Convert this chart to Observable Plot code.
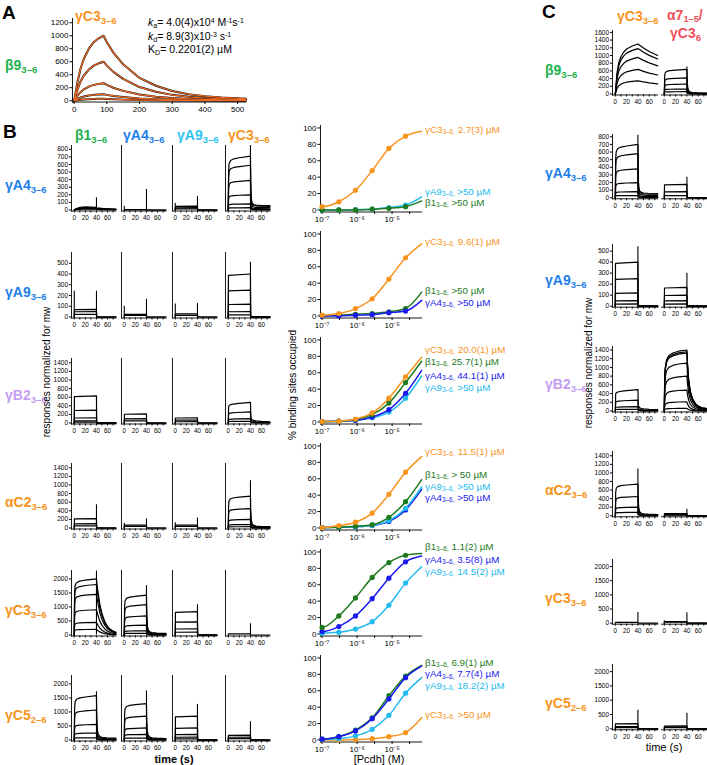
<!DOCTYPE html>
<html><head><meta charset="utf-8">
<script src="https://cdn.jsdelivr.net/npm/d3@7"></script>
<script src="https://cdn.jsdelivr.net/npm/@observablehq/plot@0.6"></script>
<style>
html,body{margin:0;padding:0;background:#fff}
#fig{position:relative;width:707px;height:765px;overflow:hidden;font-family:"Liberation Sans",Arial,Helvetica,sans-serif;color:#000;background:#fff}
#fig svg{position:absolute;overflow:visible}
.lab{position:absolute;white-space:nowrap;line-height:1}
.s{font-size:0.68em;position:relative;top:0.3em}
.rs{font-size:0.66em;position:relative;top:0.2em}
.p{font-size:0.66em;position:relative;top:-0.45em}
</style></head><body><div id="fig"></div>
<script>
// ---------- colours ----------
const C_OR = "#f7941d", C_GRN = "#22b14c", C_BLU = "#1e7fe8", C_CYN = "#2ec4f0", C_LAV = "#c49cf2", C_RED = "#f0505a";
const C_DGRN = "#1e7a1e", C_DBLU = "#1a1aee", C_LCYN = "#22bbee", C_FIT = "#f26a21";

// ---------- panel A data ----------
const aTimes = [0,10,20,30,45,60,75,90,100,120,150,200,250,300,350,400,450,525];
const aFrac  = [0,0.28,0.5,0.65,0.8,0.9,0.96,1,0.9,0.74,0.56,0.35,0.23,0.15,0.1,0.07,0.05,0.03];
const aPeaks = [1000, 600, 270, 100, 30];
const aYTicks = [0,200,400,600,800,1000,1200];
const aXTicks = [0,100,200,300,400,500];

// ---------- sensorgram shape profiles (time s, fraction of plateau) ----------
const tSquare = [0,0.3,40,40.3,75];
const fSquare = [0,0.97,1,0.01,0];
const tFast = [0,0.6,1.5,4,10,20,40,40.6,41.5,43,46,50,58,75];
const fFast = [0,0.72,0.86,0.92,0.95,0.97,1,0.5,0.25,0.13,0.08,0.06,0.05,0.04];
const fFastTail = [0,0.72,0.86,0.92,0.95,0.97,1,0.4,0.2,0.13,0.1,0.09,0.085,0.08];
const tSlowOff = [0,0.6,1.5,4,10,20,40,41,43,46,50,55,60,65,70,75];
const fSlowOff = [0,0.75,0.88,0.93,0.96,0.98,1,0.9,0.75,0.55,0.38,0.24,0.15,0.1,0.07,0.05];
const tSlope = [0,0.6,2,6,15,40,40.6,42,45,50,60,75];
const fSlope = [0,0.8,0.86,0.9,0.94,1,0.3,0.18,0.13,0.1,0.08,0.06];
const tHump = [0,3,8,15,22,30,40,40.5,50,60,75];
const fHump = [0,0.4,0.75,0.95,1,0.95,0.85,0.7,0.5,0.4,0.3];
const tB2 = [0,0.6,1.5,4,8,15,25,40,41,43,46,50,55,60,67,75];
const fB2 = [0,0.5,0.7,0.84,0.91,0.95,0.98,1,0.78,0.52,0.32,0.2,0.12,0.08,0.05,0.04];
const tSlowC = [0,3,6,10,15,20,30,40,50,60,75];
const fSlowC = [0,0.42,0.62,0.75,0.84,0.9,0.96,1,0.92,0.85,0.77];
const profiles = {square:[tSquare,fSquare], fast:[tFast,fFast], fastTail:[tFast,fFastTail], slowOff:[tSlowOff,fSlowOff],
  slope:[tSlope,fSlope], hump:[tHump,fHump], b2:[tB2,fB2], slowC:[tSlowC,fSlowC]};

// ---------- panel B sensorgrams: plateau levels per trace, profile, injection spikes [t, height] ----------
const bColNames = ["β1","γA4","γA9","γC3"];
const bColColors = [C_GRN, C_BLU, C_CYN, C_OR];
const bRowNames = ["γA4","γA9","γB2","αC2","γC3","γC5"];
const bRowSubs = ["3–6","3–6","3–6","3–6","3–6","2–6"];
const bRowColors = [C_BLU, C_BLU, C_LAV, C_OR, C_OR, C_OR];
const bYMax = [850, 600, 1500, 1500, 2300, 2300];
const bYTicks = [[0,100,200,300,400,500,600,700,800],[0,100,200,300,400,500],[0,200,400,600,800,1000,1200,1400],
  [0,200,400,600,800,1000,1200,1400],[0,500,1000,1500,2000],[0,500,1000,1500,2000]];
const lvA4 = [[40,30,20,12],[5,3],[50,30,15],[710,590,390,200,80,30]];
const pfA4 = ["hump","square","square","fastTail"];
const spA4 = [[[40,160]],[[0,50],[40,270]],[[0,85],[40,180]],[[40,850]]];
const lvA9 = [[70,50,25],[25,15],[30,15],[400,250,120,50,20]];
const pfA9 = ["square","square","square","square"];
const spA9 = [[[0,240],[40,240]],[[0,100],[40,165]],[[0,120],[40,125]],[[40,510]]];
const lvB2 = [[630,300,120,50,20],[210,100,50],[120,70,30],[480,260,100,40]];
const pfB2 = ["square","square","square","slope"];
const spB2 = [[],[],[],[]];
const lvC2 = [[220,100,50],[70,40],[70,40],[740,450,200,80,30]];
const pfC2 = ["square","square","square","fast"];
const spC2 = [[[40,540]],[[0,110],[40,210]],[[0,120],[40,230]],[[40,1100]]];
const lvC3 = [[2000,1800,1450,900,450,200],[1420,1080,680,350,150,60],[830,470,220,100],[40]];
const pfC3 = ["slowOff","fast","square","square"];
const spC3 = [[[40,2280]],[[40,1760]],[[40,1080]],[[40,400]]];
const lvC5 = [[1580,1070,560,250,80],[1300,850,430,200,70],[850,430,200,100,40],[170,100,50]];
const pfC5 = ["fast","fast","square","square"];
const spC5 = [[[40,1720]],[[40,1750]],[[40,1270]],[[40,650]]];

// ---------- panel C sensorgrams ----------
const cColNames = ["γC3"];
const cRowNames = ["β9","γA4","γA9","γB2","αC2","γC3","γC5"];
const cRowSubs = ["3–6","3–6","3–6","3–6","3–6","3–6","2–6"];
const cRowColors = [C_GRN, C_BLU, C_BLU, C_LAV, C_OR, C_OR, C_OR];
const cYMax = [1650, 830, 560, 1480, 1500, 2250, 2250];
const cYTicks = [[0,200,400,600,800,1000,1200,1400,1600],[0,100,200,300,400,500,600,700,800],[0,100,200,300,400,500],
  [0,200,400,600,800,1000,1200,1400],[0,200,400,600,800,1000,1200,1400],[0,500,1000,1500,2000],[0,500,1000,1500,2000]];
const lvCb9 = [[1300,1180,950,640,340],[640,420,260,130,60]];
const pfCb9 = ["slowC","fast"];
const spCb9 = [[],[[40,700]]];
const lvCA4 = [[700,580,380,200,80,30],[175,80,30]];
const pfCA4 = ["fastTail","square"];
const spCA4 = [[[40,820]],[[40,270]]];
const lvCA9 = [[400,250,120,50,20],[170,100,50,20]];
const pfCA9 = ["square","square"];
const spCA9 = [[[40,540]],[[40,300]]];
const lvCB2 = [[490,250,100,40],[1400,1360,1330,1100,800,480,210,60]];
const pfCB2 = ["slope","b2"];
const spCB2 = [[],[]];
const lvCC2 = [[740,450,200,80],[50,30,15]];
const pfCC2 = ["fast","square"];
const spCC2 = [[[40,1090]],[[40,150]]];
const lvCC3 = [[30],[60,40]];
const pfCC3 = ["square","square"];
const spCC3 = [[[40,380]],[[0,90],[40,370]]];
const lvCC5 = [[180,80,40],[100,70,40]];
const pfCC5 = ["square","square"];
const spCC5 = [[[40,650]],[[40,540]]];

const xTicksSmall = [0,10,20,30,40,50,60,70];

// ---------- panel B binding isotherms ----------
const concs = [1e-7, 3e-7, 9e-7, 2.7e-6, 8.1e-6, 2.43e-5];
const cStart = 9e-8, cEnd = 7e-5;
const xTickExp = [-7,-6.5,-6,-5.5,-5,-4.5];
const xTickLab = ["10⁻⁷","","10⁻⁶","","10⁻⁵",""];
const yTicksBind = [0,20,40,60,80,100];
const bind1 = [
  {name:"γA9", color:C_LCYN, dots:[0,0,0.5,1,3,6], end:16, kd:">50 µM", ly:192},
  {name:"β1", color:C_DGRN, dots:[0,0,0,1,2,4], end:11, kd:">50 µM", ly:203},
  {name:"γC3", color:C_OR, dots:[4,10,24,48,75,90], end:96, kd:"2.7(3) µM", ly:130}];
const bind2 = [
  {name:"β1", color:C_DGRN, dots:[0.5,1,2,3,5,9], end:29, kd:">50 µM", ly:291},
  {name:"γA4", color:C_DBLU, dots:[0,0,1,1.5,4,6], end:19, kd:">50 µM", ly:302.7},
  {name:"γC3", color:C_OR, dots:[1,3,9,21,45,71], end:88, kd:"9.6(1) µM", ly:241.7}];
const bind3 = [
  {name:"γA9", color:C_LCYN, dots:[0.5,1,2,5,12,29], end:56, kd:">50 µM", ly:387.7},
  {name:"γA4", color:C_DBLU, dots:[0.5,1,2,6,15,35], end:63, kd:"44.1(1) µM", ly:376},
  {name:"β1", color:C_DGRN, dots:[0.5,1,3,9,23,48], end:74, kd:"25.7(1) µM", ly:361.5},
  {name:"γC3", color:C_OR, dots:[0.5,1,3.5,11,29,55], end:79, kd:"20.0(1) µM", ly:349.5}];
const bind4 = [
  {name:"γA4", color:C_DBLU, dots:[0.5,1,1.5,3,8,22], end:47, kd:">50 µM", ly:498},
  {name:"γA9", color:C_LCYN, dots:[0.5,1,1.5,3,9,24], end:50, kd:">50 µM", ly:486.7},
  {name:"β1", color:C_DGRN, dots:[0.5,1,2,4,13,32], end:59, kd:"> 50 µM", ly:475},
  {name:"γC3", color:C_OR, dots:[0.5,3,7,18,41,68], end:87, kd:"11.5(1) µM", ly:451.7}];
const bind5 = [
  {name:"γA9", color:C_LCYN, dots:[1,2,6,15,35,62], end:82, kd:"14.5(2) µM", ly:572},
  {name:"γA4", color:C_DBLU, dots:[3,9,22,43,68,88], end:95, kd:"3.5(8) µM", ly:560},
  {name:"β1", color:C_DGRN, dots:[8,22,44,69,87,96], end:98, kd:"1.1(2) µM", ly:546.5}];
const bind6 = [
  {name:"γC3", color:C_OR, dots:[0,0,0.5,1.5,4,9], end:27, kd:">50 µM", ly:715},
  {name:"γA9", color:C_LCYN, dots:[0.5,1.5,5,13,30,57], end:76, kd:"18.2(2) µM", ly:686},
  {name:"β1", color:C_DGRN, dots:[1,4,12,27,54,78], end:91, kd:"6.9(1) µM", ly:662.5},
  {name:"γA4", color:C_DBLU, dots:[1,4,11,26,50,76], end:90, kd:"7.7(4) µM", ly:674.3}];

// ---------- helpers ----------
const fig = document.getElementById("fig");
const FONT = '"Liberation Sans", Arial, Helvetica, sans-serif';
const STYLE = {fontFamily: FONT, background: "transparent", overflow: "visible", color: "#000"};
function place(svg, left, top) { svg.style.left = left + "px"; svg.style.top = top + "px"; fig.appendChild(svg); }
function lab(x, y, html, opt = {}) {
  const d = document.createElement("div");
  d.className = "lab";
  d.innerHTML = html;
  d.style.left = x + "px"; d.style.top = y + "px";
  d.style.fontSize = (opt.size || 11) + "px";
  if (opt.color) d.style.color = opt.color;
  if (opt.bold) d.style.fontWeight = "bold";
  let tr = "translateY(-50%)";
  if (opt.anchor === "middle") tr = "translate(-50%,-50%)";
  if (opt.rotate) tr = "translate(-50%,-50%) rotate(-90deg)";
  d.style.transform = tr;
  fig.appendChild(d);
}
const sub = (name, s) => `${name}<span class="s">${s}</span>`;
const plain = d => String(d);

const ML = 24, MR = 3, MT = 3, MB = 14;
function sensor(o) {
  const [tt, ff] = profiles[o.prof];
  const data = [];
  o.levels.forEach((L, i) => tt.forEach((t, j) => data.push({k: i, t, v: L * ff[j]})));
  const W = (o.xdom[1] - o.xdom[0]) * o.ppu;
  const H = o.h;
  const unitPx = o.ymax / H;
  const marks = [
    Plot.line(data, {x: "t", y: "v", z: "k", stroke: "#000", strokeWidth: 1.2}),
    Plot.ruleX(o.spikes, {x: d => d[0], y1: 0, y2: d => d[1], stroke: "#000", strokeWidth: 1.1}),
    Plot.frame({anchor: "bottom", stroke: "#000", strokeWidth: 0.9}),
    Plot.axisX({ticks: xTicksSmall, tickFormat: d => d % 20 === 0 ? String(d) : "", tickSize: 2, tickPadding: 2.5, fontSize: 6.3, label: null})
  ];
  if (o.yaxis !== "none") marks.push(Plot.frame({anchor: "left", stroke: "#000", strokeWidth: 0.9}));
  if (o.yaxis === "full") marks.push(Plot.axisY({ticks: o.yticks, tickFormat: plain, tickSize: 2, tickPadding: 1.5, fontSize: 6.5, label: null}));
  const svg = Plot.plot({
    width: ML + W + MR, height: MT + H + 1 + MB,
    marginLeft: ML, marginRight: MR, marginTop: MT, marginBottom: MB,
    x: {domain: o.xdom, label: null},
    y: o.yaxis === "full" ? {domain: [-unitPx, o.ymax], label: null} : {domain: [-unitPx, o.ymax], axis: null, label: null},
    style: STYLE,
    marks
  });
  place(svg, o.left - ML, o.y0 - H - MT);
}

// ---------- panel A ----------
(function () {
  const data = [];
  aPeaks.forEach((P, i) => aTimes.forEach((t, j) => data.push({k: i, t, v: P * aFrac[j]})));
  const ppu = 0.327, xdom = [-5, 525], ydom = [-20, 1265], ypx = 0.065;
  const W = (xdom[1] - xdom[0]) * ppu, H = (ydom[1] - ydom[0]) * ypx;
  const ml = 30, mt = 3, mb = 16, mr = 4;
  const svg = Plot.plot({
    width: ml + W + mr, height: mt + H + mb, marginLeft: ml, marginRight: mr, marginTop: mt, marginBottom: mb,
    x: {domain: xdom, label: null}, y: {domain: ydom, label: null},
    style: STYLE,
    marks: [
      Plot.line(data, {x: "t", y: "v", z: "k", stroke: "#111", strokeWidth: 2}),
      Plot.line(data, {x: "t", y: "v", z: "k", stroke: C_FIT, strokeWidth: 1.2}),
      Plot.frame({anchor: "left", stroke: "#000", strokeWidth: 0.9}),
      Plot.frame({anchor: "bottom", stroke: "#000", strokeWidth: 0.9}),
      Plot.axisY({ticks: aYTicks, tickFormat: plain, tickSize: 2.5, tickPadding: 1.5, fontSize: 8, label: null}),
      Plot.axisX({ticks: aXTicks, tickFormat: plain, tickSize: 2.5, tickPadding: 2, fontSize: 8, label: null})
    ]
  });
  place(svg, 72.4 - ml, 100 - 1265 * ypx - mt);
})();
lab(2, 12, "A", {size: 19, bold: true});
lab(75, 16, sub("γC3", "3–6"), {size: 14, bold: true, color: C_OR});
lab(5, 65, sub("β9", "3–6"), {size: 14, bold: true, color: C_GRN});
lab(148, 23, `<i>k</i><span class="s">a</span>= 4.0(4)x10<span class="p">4</span> M<span class="p">-1</span>s<span class="p">-1</span>`, {size: 10.5});
lab(148, 37, `<i>k</i><span class="s">d</span>= 8.9(3)x10<span class="p">-3</span> s<span class="p">-1</span>`, {size: 10.5});
lab(148, 50, `K<span class="s">D</span>= 0.2201(2) µM`, {size: 10.5});

// ---------- panel B sensorgrams ----------
lab(3, 131, "B", {size: 19, bold: true});
const bColX0 = [74, 123.3, 175, 227.7];
const bColHeadX = [75, 123, 177, 228];
const bRowY0 = [209, 316, 422, 527, 634, 739];
const bRowLabY = [185, 292, 395, 502, 610, 715];
const bLevels = [lvA4, lvA9, lvB2, lvC2, lvC3, lvC5];
const bProfs = [pfA4, pfA9, pfB2, pfC2, pfC3, pfC5];
const bSpikes = [spA4, spA9, spB2, spC2, spC3, spC5];
bColNames.forEach((n, c) => lab(bColHeadX[c], 135, sub(n, "3–6"), {size: 14, bold: true, color: bColColors[c]}));
bRowNames.forEach((n, r) => {
  lab(5, bRowLabY[r], sub(n, bRowSubs[r]), {size: 14, bold: true, color: bRowColors[r]});
  for (let c = 0; c < 4; c++) {
    sensor({left: bColX0[c] - 5 * 0.555, y0: bRowY0[r], h: 64.5, ymax: bYMax[r], yticks: bYTicks[r],
      yaxis: c === 0 ? "full" : "line", levels: bLevels[r][c], prof: bProfs[r][c], spikes: bSpikes[r][c],
      xdom: [-5, 75], ppu: 0.555});
  }
});
lab(47, 372, "responses normalized for mw", {size: 10, rotate: true});
lab(174, 759, "time (s)", {size: 11, bold: true, anchor: "middle"});

// ---------- panel B binding isotherms ----------
const bindSets = [bind1, bind2, bind3, bind4, bind5, bind6];
const bindY0 = [209, 315, 421, 527, 633, 739];
bindSets.forEach((set, p) => {
  const ypx = 0.82, ydom = [-2.5, 103];
  const W = (Math.log10(cEnd) - Math.log10(cStart)) * 35, H = (ydom[1] - ydom[0]) * ypx;
  const ml = 26, mr = 3, mt = 3, mb = 16;
  const marks = [
    Plot.frame({anchor: "left", stroke: "#000", strokeWidth: 0.9}),
    Plot.frame({anchor: "bottom", stroke: "#000", strokeWidth: 0.9}),
    Plot.axisY({ticks: yTicksBind, tickFormat: plain, tickSize: 2.5, tickPadding: 1.5, fontSize: 8, label: null}),
    Plot.axisX({ticks: xTickExp.map(e => Math.pow(10, e)), tickSize: 2.5, tickPadding: 2, fontSize: 8, label: null,
      tickFormat: d => { const i = xTickExp.findIndex(e => Math.abs(Math.log10(d) - e) < 1e-6); return i < 0 ? "" : xTickLab[i]; }})
  ];
  set.forEach(s => {
    const dots = concs.map((c, i) => ({c, v: s.dots[i]}));
    const line = [{c: cStart, v: s.dots[0]}, ...dots, {c: cEnd, v: s.end}];
    marks.push(Plot.line(line, {x: "c", y: "v", stroke: s.color, strokeWidth: 1.5, curve: "monotone-x"}));
    marks.push(Plot.dot(dots, {x: "c", y: "v", fill: s.color, r: 2.6}));
    lab(425, s.ly, `${s.name}<span class="rs">3–6,</span> ${s.kd}`, {size: 9.8, color: s.color});
  });
  const svg = Plot.plot({
    width: ml + W + mr, height: mt + H + mb, marginLeft: ml, marginRight: mr, marginTop: mt, marginBottom: mb,
    x: {type: "log", domain: [cStart, cEnd], label: null}, y: {domain: ydom, label: null},
    style: STYLE,
    marks
  });
  place(svg, 320.1 - ml, bindY0[p] - 103 * ypx - mt);
});
lab(293, 385, "% binding sites occupied", {size: 10, rotate: true});
lab(379, 759, "[Pcdh] (M)", {size: 11, anchor: "middle"});

// ---------- panel C ----------
lab(542, 11, "C", {size: 19, bold: true});
lab(617, 16, sub(cColNames[0], "3–6"), {size: 14, bold: true, color: C_OR});
lab(667, 15, `α7<span class="rs">1–5</span>/`, {size: 14, bold: true, color: C_RED});
lab(670, 33, sub("γC3", "6"), {size: 14, bold: true, color: C_RED});
const cColX0 = [615, 664];
const cRowY0 = [93.3, 197.7, 305.7, 410, 515.7, 622.7, 728.3];
const cRowTop = [29.8, 134.4, 244, 345.5, 451.4, 559, 664];
const cRowLabY = [70, 173, 280, 384, 490, 598, 702.7];
const cLevels = [lvCb9, lvCA4, lvCA9, lvCB2, lvCC2, lvCC3, lvCC5];
const cProfs = [pfCb9, pfCA4, pfCA9, pfCB2, pfCC2, pfCC3, pfCC5];
const cSpikes = [spCb9, spCA4, spCA9, spCB2, spCC2, spCC3, spCC5];
cRowNames.forEach((n, r) => {
  lab(545, cRowLabY[r], sub(n, cRowSubs[r]), {size: 14, bold: true, color: cRowColors[r]});
  for (let c = 0; c < 2; c++) {
    sensor({left: cColX0[c] - 5 * 0.565, y0: cRowY0[r], h: cRowY0[r] - cRowTop[r], ymax: cYMax[r], yticks: cYTicks[r],
      yaxis: c === 0 ? "full" : "none", levels: cLevels[r][c], prof: cProfs[r][c], spikes: cSpikes[r][c],
      xdom: [-5, 75], ppu: 0.565});
  }
});
lab(588.5, 362.5, "responses normalized for mw", {size: 10, rotate: true});
lab(664, 747, "time (s)", {size: 11, anchor: "middle"});
</script></body></html>
